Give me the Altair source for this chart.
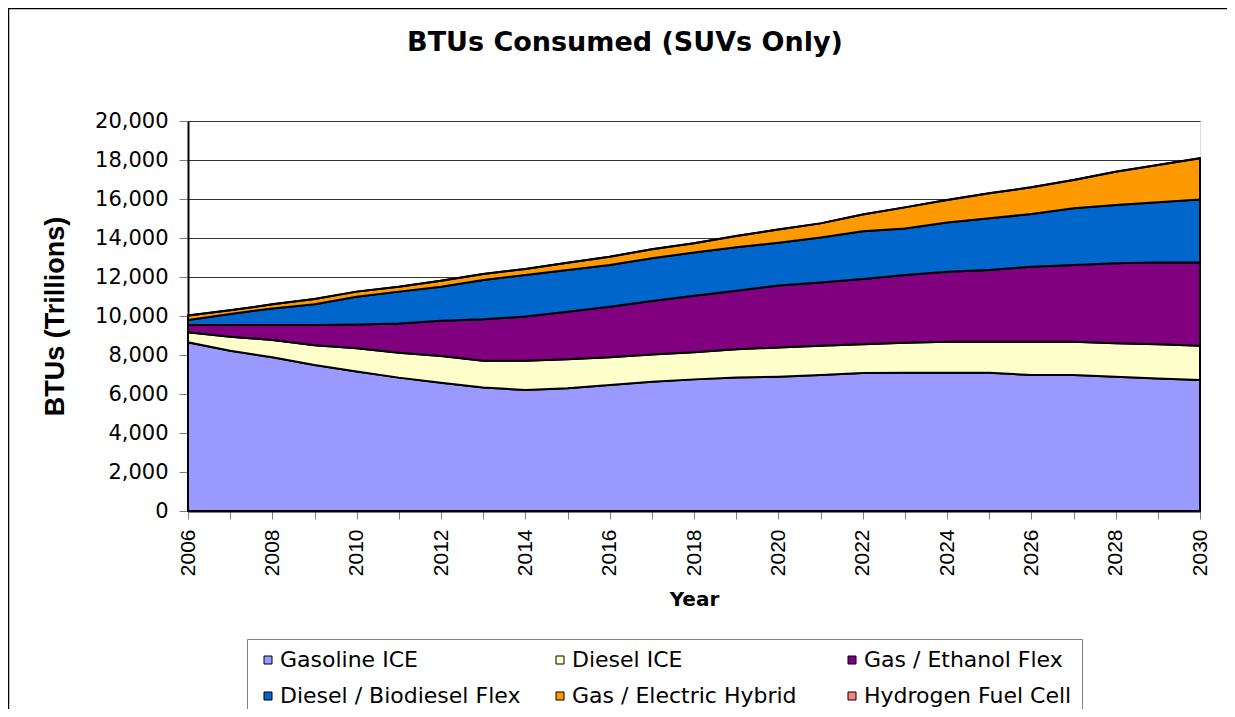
import altair as alt
import pandas as pd

years = list(range(2006, 2031))

series = ["Gasoline ICE", "Diesel ICE", "Gas / Ethanol Flex",
          "Diesel / Biodiesel Flex", "Gas / Electric Hybrid", "Hydrogen Fuel Cell"]
colors = ["#9999FF", "#FFFFCC", "#800080", "#0066CC", "#FF9900", "#FF8080"]

gasoline_ice = [8650, 8220, 7880, 7490, 7150, 6840, 6580, 6330, 6210, 6290, 6460, 6630, 6750,
                6840, 6890, 6970, 7080, 7090, 7090, 7090, 6970, 6970, 6890, 6800, 6720]
diesel_ice = [510, 720, 890, 1010, 1190, 1280, 1370, 1380, 1500, 1490, 1420, 1400, 1390,
              1450, 1500, 1510, 1470, 1540, 1590, 1590, 1710, 1710, 1710, 1750, 1760]
gas_ethanol_flex = [380, 600, 770, 1040, 1220, 1500, 1810, 2120, 2260, 2440, 2600, 2740, 2900,
                    3010, 3170, 3240, 3350, 3470, 3590, 3680, 3850, 3940, 4100, 4200, 4270]
diesel_biodiesel_flex = [250, 560, 850, 1060, 1430, 1630, 1740, 2020, 2130, 2140, 2140, 2190, 2220,
                         2220, 2200, 2300, 2450, 2390, 2520, 2650, 2700, 2900, 2990, 3080, 3230]
gas_electric_hybrid = [230, 190, 210, 270, 260, 250, 310, 300, 310, 370, 420, 460, 470,
                       580, 680, 730, 850, 1080, 1160, 1280, 1370, 1450, 1710, 1910, 2110]
hydrogen_fuel_cell = [0] * 25

y_ticks = list(range(0, 20001, 2000))

all_values = [gasoline_ice, diesel_ice, gas_ethanol_flex,
              diesel_biodiesel_flex, gas_electric_hybrid, hydrogen_fuel_cell]

rows = []
for i, (name, vals) in enumerate(zip(series, all_values)):
    for yr, v in zip(years, vals):
        rows.append({"Year": yr, "Series": name, "Value": v, "Order": i})
df = pd.DataFrame(rows)

areas = alt.Chart(df).mark_area(stroke="black", strokeWidth=2, interpolate="linear",
                                opacity=1).encode(
    x=alt.X("Year:Q",
            scale=alt.Scale(domain=[2006, 2030], nice=False, zero=False),
            axis=alt.Axis(values=years, format="d",
                          labelExpr="datum.value % 2 == 0 ? datum.label : ''",
                          labelOverlap=False, labelAngle=-90,
                          labelFont="Liberation Sans", labelFontSize=21,
                          labelPadding=10, tickSize=8, tickColor="#808080",
                          domainColor="black", domainWidth=2, grid=False,
                          title="Year", titleFont="DejaVu Sans", titleFontSize=20,
                          titleFontWeight="bold", titleBaseline="alphabetic",
                          titleY=94)),
    y=alt.Y("Value:Q", stack="zero",
            scale=alt.Scale(domain=[0, 20000], nice=False),
            axis=alt.Axis(values=y_ticks, format=",.0f", labelFont="DejaVu Sans",
                          labelFontSize=21, labelPadding=11, tickSize=9,
                          tickColor="#808080", domainColor="black", domainWidth=2,
                          grid=True, gridColor="#333333", gridWidth=1,
                          title="BTUs (Trillions)", titleFont="Liberation Sans",
                          titleFontSize=27, titleFontWeight="bold", titleAngle=-90,
                          titleBaseline="alphabetic", titleAlign="center",
                          titleX=-125, titleY=195)),
    color=alt.Color("Series:N",
                    scale=alt.Scale(domain=series, range=colors),
                    legend=alt.Legend(title=None, orient="none", legendX=59, legendY=518,
                                      columns=3, direction="horizontal",
                                      gridAlign="all", columnPadding=28, rowPadding=14,
                                      symbolType="square", symbolSize=64,
                                      symbolStrokeColor="black", symbolStrokeWidth=1,
                                      symbolOpacity=1,
                                      labelFont="DejaVu Sans", labelFontSize=22,
                                      labelOffset=1, labelLimit=400,
                                      padding=10, strokeColor="#808080",
                                      fillColor="white")),
    order=alt.Order("Order:Q", sort="ascending"),
)

frame = alt.Chart(pd.DataFrame({"a": [0]})).mark_rect(
    fillOpacity=0, stroke="black", strokeWidth=1.5
).encode(
    x=alt.value(-179.5), x2=alt.value(1100), y=alt.value(-112.5), y2=alt.value(700)
)

chart = alt.layer(areas, frame).properties(
    width=1012, height=390,
    title=alt.TitleParams("BTUs Consumed (SUVs Only)", font="DejaVu Sans", fontSize=27,
                          fontWeight="bold", anchor="middle", dx=-69, offset=-70,
                          baseline="alphabetic", color="black"),
    autosize=alt.AutoSizeParams(type="none"),
    padding={"left": 180, "top": 113, "right": 27, "bottom": 198},
).configure_view(
    fill="#C0C0C0", stroke="#808080", strokeWidth=1.5
).configure_axis(
    labelColor="black", titleColor="black"
).configure(background="white")

chart.save("out.html", embed_options={"renderer": "svg", "actions": False})
